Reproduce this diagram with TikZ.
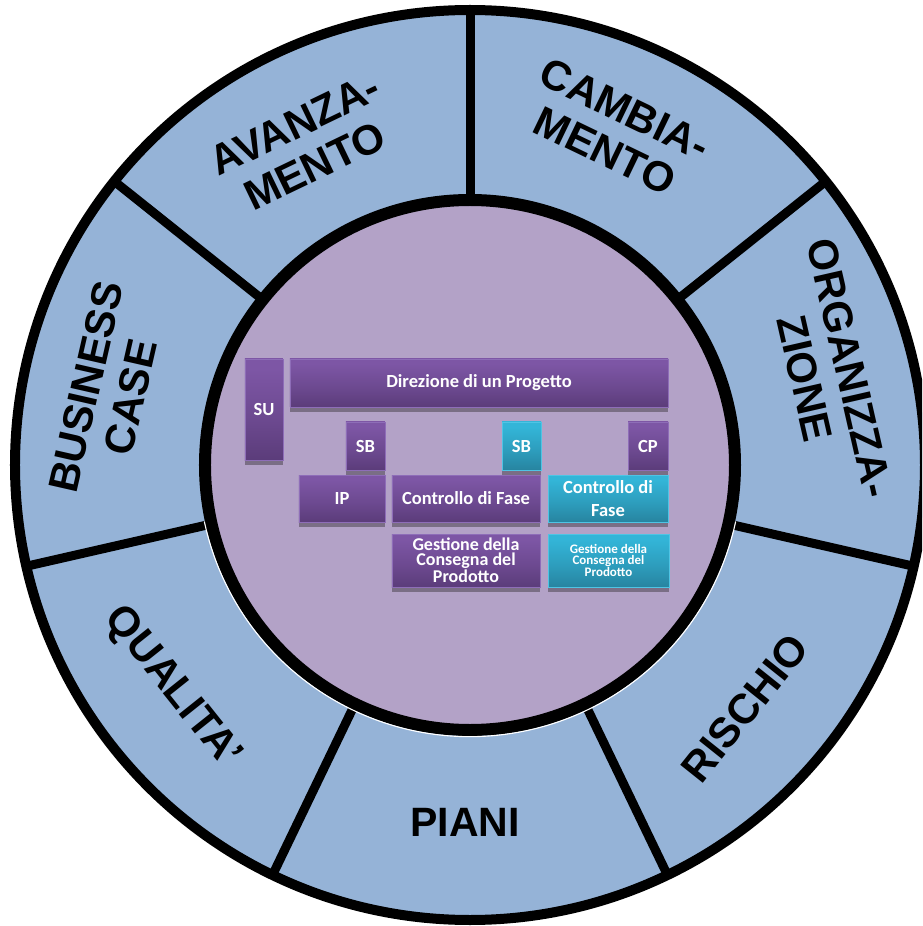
\documentclass[tikz,border=0pt]{standalone}
\usepackage{fontspec}
\setmainfont{Liberation Sans}
\newfontfamily\boxfont{Carlito}
\usetikzlibrary{shadows}

\definecolor{ringblue}{HTML}{95B3D7}
\definecolor{lavender}{HTML}{B3A2C7}
\definecolor{purpletop}{HTML}{7D56A5}
\definecolor{purplebot}{HTML}{5B3C7A}
\definecolor{purpleedge}{HTML}{8E6DB8}
\definecolor{cyantop}{HTML}{33B5D8}
\definecolor{cyanbot}{HTML}{2784A0}
\definecolor{cyanedge}{HTML}{4FC4E4}
\definecolor{shadowgray}{HTML}{7A6E85}

\pgfdeclareverticalshading{pboxshade}{100bp}{color(0bp)=(purplebot); color(25bp)=(purplebot); color(45bp)=(purplebot!50!purpletop); color(70bp)=(purpletop); color(100bp)=(purpletop)}
\pgfdeclareverticalshading{cboxshade}{100bp}{color(0bp)=(cyanbot); color(25bp)=(cyanbot); color(45bp)=(cyanbot!50!cyantop); color(70bp)=(cyantop); color(100bp)=(cyantop)}

\tikzset{
  ringlabel/.style={font=\bfseries\fontsize{42}{46}\selectfont, align=center, text=black, inner sep=0pt},
  boxbase/.style={line width=0.8pt, text=white, align=center, inner sep=0pt,
    font=\boxfont\bfseries\fontsize{18.5}{23}\selectfont,
    general shadow={fill=shadowgray, shadow yshift=-5pt}},
  pbox/.style={boxbase, draw=purpleedge, shading=pboxshade},
  cbox/.style={boxbase, draw=cyanedge, shading=cboxshade},
  spoke/.style={line width=9pt, black},
}

\begin{document}
\begin{tikzpicture}[x=1pt,y=1pt]
\useasboundingbox (-470,-461) rectangle (452,465);
\clip (-470,-461) rectangle (452,465);

% outer ring
\fill[ringblue] (0,0) circle[radius=455];
\draw[line width=10pt, black] (0,0) circle[radius=455];

% spokes between the seven sectors
\foreach \k in {0,...,6}{
  \pgfmathsetmacro{\ang}{90-\k*360/7}
  \coordinate (sin\k) at (\ang:258);
  \coordinate (sout\k) at (\ang:452);
  \draw[spoke] (sin\k) -- (sout\k);
}

% inner disc
\fill[lavender] (0,0) circle[radius=265];
\draw[line width=12pt, black] (0,0) circle[radius=265];
\draw[white, line width=1.1pt] (-168:271.6) arc[start angle=-168, end angle=-12, radius=271.6];

% boxes
\node[pbox, minimum width=38, minimum height=101] (su) at (-206,55.5) {SU};
\node[pbox, minimum width=378, minimum height=48] (dir) at (9,82) {Direzione di un Progetto};
\node[pbox, minimum width=39, minimum height=48] (sba) at (-104.5,19) {SB};
\node[cbox, minimum width=39, minimum height=48] (sbb) at (51.5,19) {SB};
\node[pbox, minimum width=40, minimum height=48] (cp) at (178,19) {CP};
\node[pbox, minimum width=86, minimum height=47] (ip) at (-128,-33.5) {IP};
\node[pbox, minimum width=148, minimum height=47] (cfa) at (-4,-33.5) {Controllo di Fase};
\node[cbox, minimum width=120, minimum height=47] (cfb) at (138,-33.5) {Controllo di\\Fase};
\node[pbox, minimum width=148, minimum height=53, font=\boxfont\bfseries\fontsize{18}{15}\selectfont] (gca) at (-4,-95.5) {Gestione della\\Consegna del\\Prodotto};
\node[cbox, minimum width=121, minimum height=53, font=\boxfont\bfseries\fontsize{13}{10.7}\selectfont] (gcb) at (138.5,-95.5) {Gestione della\\Consegna del\\Prodotto};

% ring labels
\node[ringlabel, rotate=25.71] (avanz) at (117.3:360) {AVANZA-\\MENTO};
\node[ringlabel, rotate=-25.71] (camb) at (66.6:365) {CAMBIA-\\MENTO};
\node[ringlabel, rotate=-77.14] (org) at (14.4:369) {ORGANIZZA-\\ZIONE};
\node[ringlabel, rotate=51.43] (risc) at (-41.5:367) {RISCHIO};
\node[ringlabel, font=\bfseries\fontsize{41}{46}\selectfont] (piani) at (-90.8:357) {PIANI};
\node[ringlabel, rotate=-51.43] (qual) at (-143.2:372) {QUALITA’};
\node[ringlabel, rotate=77.14] (bus) at (168.6:369) {BUSINESS\\CASE};
\end{tikzpicture}
\end{document}
